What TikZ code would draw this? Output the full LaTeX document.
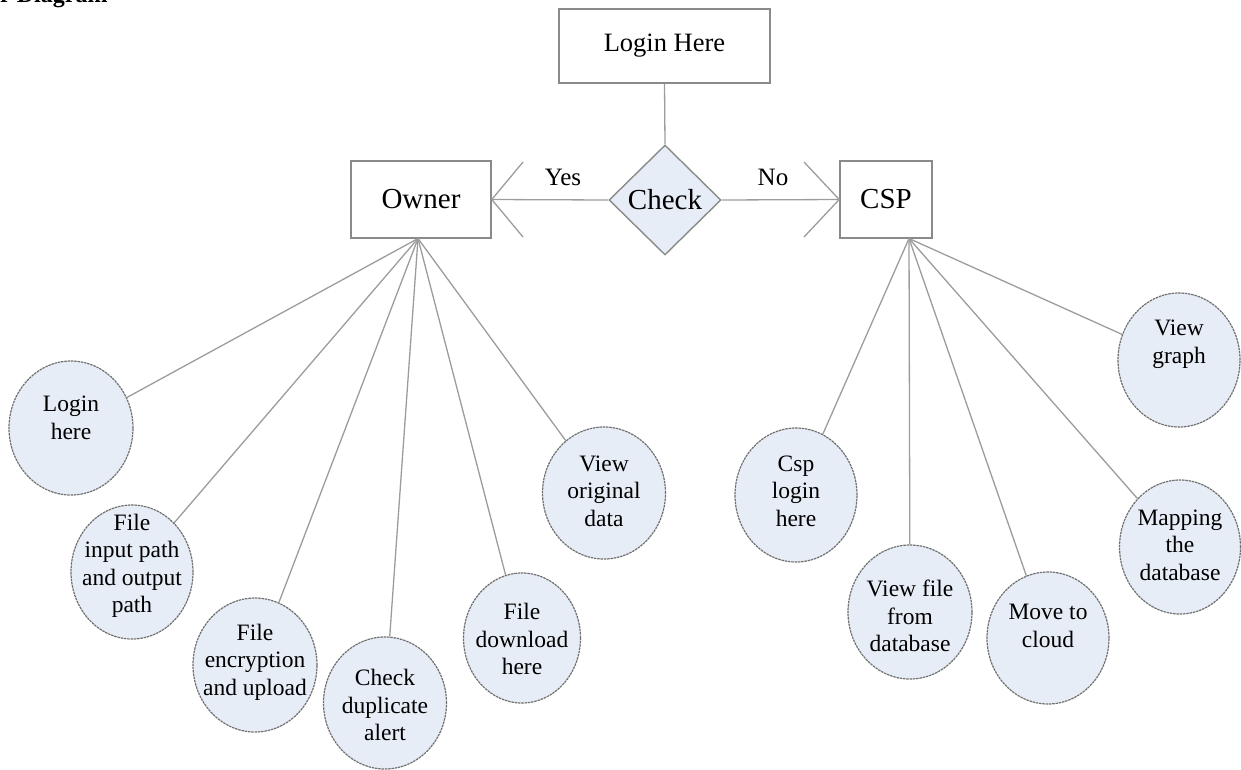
\documentclass[tikz,border=0pt]{standalone}
\usepackage{fontspec}
\setmainfont{Liberation Serif}
\usetikzlibrary{shapes.geometric}
\definecolor{efill}{HTML}{E7EDF6}
\definecolor{eline}{HTML}{707070}
\definecolor{cline}{HTML}{9C9C9C}
\definecolor{bline}{HTML}{8A8A8A}
\tikzset{
  ell/.style={ellipse, draw=eline, fill=efill, line width=1.2pt, dash pattern=on 2.5pt off 0.8pt, inner sep=0pt},
  etext/.style={align=center, inner sep=0pt, font=\fontsize{23.5}{27.5}\selectfont},
  boxnode/.style={rectangle, draw=bline, fill=white, line width=1.6pt, inner sep=0pt},
  conn/.style={draw=cline, line width=1.3pt},
  lbl/.style={inner sep=0pt, font=\fontsize{25}{28}\selectfont}
}
\begin{document}
\begin{tikzpicture}[x=1pt,y=-1pt]
\useasboundingbox (0,0) rectangle (1241,769);
% cut-off heading
\node[anchor=base west, inner sep=0pt, font=\bfseries\fontsize{24}{26}\selectfont] (head) at (0,2.5) {r Diagram};

% boxes
\node[boxnode, minimum width=211pt, minimum height=74pt, font=\fontsize{26.5}{30}\selectfont] (login) at (664.5,46) {Login Here};
\node[boxnode, minimum width=140pt, minimum height=77pt, font=\fontsize{29}{32}\selectfont] (owner) at (421,199.5) {Owner};
\node[boxnode, minimum width=92pt, minimum height=77pt, font=\fontsize{29}{32}\selectfont] (csp) at (886,199.5) {CSP};
\node[diamond, draw=bline, fill=efill, line width=1.4pt, minimum width=112pt, minimum height=110pt, inner sep=0pt, font=\fontsize{29}{32}\selectfont] (check) at (665,200) {Check};

\coordinate (ob) at (418,238.5);
\coordinate (cb) at (909,238.5);
\coordinate (oy1) at (523,162);
\coordinate (oy2) at (523,237);
\coordinate (cy1) at (804,162);
\coordinate (cy2) at (804,237);

% connectors top
\draw[conn] (login.south) -- (check.north);
\draw[conn] (check.west) -- (owner.east);
\draw[conn] (check.east) -- (csp.west);
\draw[conn] (oy1) -- (owner.east) -- (oy2);
\draw[conn] (cy1) -- (csp.west) -- (cy2);
\node[lbl] (yes) at (563,177) {Yes};
\node[lbl] (no) at (773,177) {No};

% ellipses (owner side)
\node[ell, minimum width=124pt, minimum height=134pt] (e1) at (71,428) {};
\node[ell, minimum width=122pt, minimum height=134pt] (e2) at (132,572) {};
\node[ell, minimum width=124pt, minimum height=134pt] (e3) at (255,665) {};
\node[ell, minimum width=123pt, minimum height=132pt] (e4) at (385,703) {};
\node[ell, minimum width=117pt, minimum height=130pt] (e5) at (522,638) {};
\node[ell, minimum width=123pt, minimum height=132pt] (e6) at (604,493) {};
% ellipses (csp side)
\node[ell, minimum width=122pt, minimum height=134pt] (c1) at (796,495) {};
\node[ell, minimum width=124pt, minimum height=134pt] (c2) at (910,612) {};
\node[ell, minimum width=122pt, minimum height=132pt] (c3) at (1048,638) {};
\node[ell, minimum width=121pt, minimum height=134pt] (c4) at (1180,547) {};
\node[ell, minimum width=122pt, minimum height=134pt] (c5) at (1179,360) {};

% connectors to ellipses
\foreach \e in {e1,e2,e3,e4,e5,e6} \draw[conn] (ob) -- (\e);
\foreach \e in {c1,c2,c3,c4,c5} \draw[conn] (cb) -- (\e);

% ellipse texts
\node[etext] (t1) at (71,418) {Login\\here};
\node[etext] (t2) at (132,566) {File\\input path\\and output\\path};
\node[etext] (t3) at (255,662) {File\\encryption\\and upload};
\node[etext] (t4) at (385,705) {Check\\duplicate\\alert};
\node[etext] (t5) at (522,639) {File\\download\\here};
\node[etext] (t6) at (604,491) {View\\original\\data};
\node[etext] (s1) at (796,491) {Csp\\login\\here};
\node[etext] (s2) at (910,616) {View file\\from\\database};
\node[etext] (s3) at (1048,626) {Move to\\cloud};
\node[etext] (s4) at (1180,545) {Mapping\\the\\database};
\node[etext] (s5) at (1179,344) {View\\graph};
\end{tikzpicture}
\end{document}
